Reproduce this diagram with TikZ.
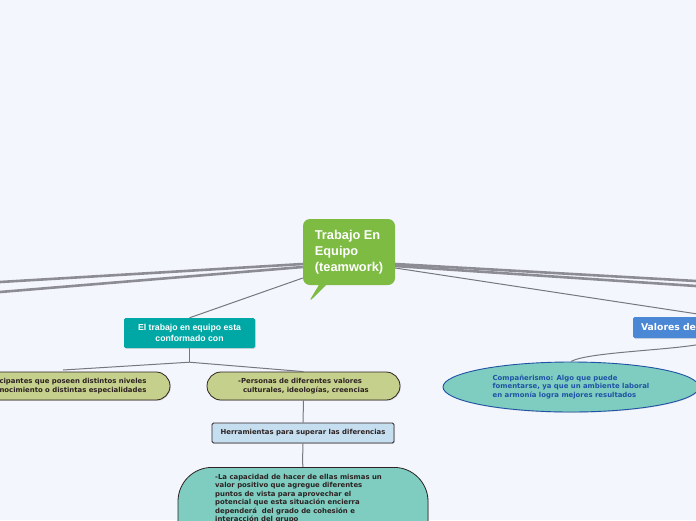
\documentclass[tikz,border=0pt]{standalone}
\usepackage{fontspec}
\setmainfont{DejaVu Sans}
\newfontfamily\headfont{Liberation Sans}
\usepackage{xcolor}
\usetikzlibrary{shapes.geometric, shapes.callouts, positioning, calc, shadows}
\definecolor{pagebg}{RGB}{244, 246, 254}
\definecolor{maingreen}{RGB}{125, 187, 66}
\definecolor{deepteal}{RGB}{0, 168, 165}
\definecolor{olive}{RGB}{197, 208, 140}
\definecolor{paleblue}{RGB}{197, 222, 240}
\definecolor{softteal}{RGB}{126, 205, 192}
\definecolor{valblue}{RGB}{74, 135, 212}
\definecolor{inkblue}{RGB}{31, 82, 165}
\definecolor{darkink}{RGB}{45, 34, 34}
\definecolor{linkgray}{RGB}{140, 140, 148}

\begin{document}
\begin{tikzpicture}[x=1pt, y=-1pt,
    thickbranch/.style={draw=linkgray, line width=2.6pt},
    thinbranch/.style={draw=linkgray!85!black, line width=1pt},
    pill/.style={draw=darkink, line width=0.8pt, fill=olive, rounded corners=14pt,
                 minimum height=28pt, align=left, text=darkink,
                 font=\fontsize{6.9}{8.5}\selectfont\bfseries,
                 drop shadow={shadow xshift=0.8pt, shadow yshift=-0.8pt, opacity=0.25}},
    flatbox/.style={rounded corners=1.5pt, align=center, inner sep=0pt,
                    drop shadow={shadow xshift=0.8pt, shadow yshift=-0.8pt, opacity=0.25}}
]
    \useasboundingbox[fill=pagebg] (0,0) rectangle (696,520);

    % central topic
    \node[rectangle callout, rounded corners=7pt, fill=maingreen, minimum width=92pt,
          minimum height=66pt, callout absolute pointer={(308,303)}, text=white,
          align=left, font=\headfont\fontsize{12.8}{16}\selectfont\bfseries]
          (central) at (349,252) {Trabajo En\\Equipo\\(teamwork)};

    % branches that leave the page
    \coordinate (leftA) at (0,282);
    \coordinate (leftB) at (0,292);
    \coordinate (rightA) at (696,281);
    \coordinate (rightB) at (696,286);
    \draw[thickbranch] ($(central.west)+(0,12)$) -- (leftA);
    \draw[thickbranch] ($(central.west)+(0,15)$) -- (leftB);
    \draw[thickbranch] ($(central.east)+(0,12)$) -- (rightA);
    \draw[thickbranch] ($(central.east)+(0,14)$) -- (rightB);

    % left subtree
    \node[flatbox, fill=deepteal, minimum width=131pt, minimum height=30pt, text=white,
          font=\headfont\fontsize{8.7}{11.5}\selectfont\bfseries]
          (conformado) at (189.5,333) {El trabajo en equipo esta\\conformado con};
    \draw[thinbranch] ($(central.west)+(0,26)$) -- (conformado.north);

    \node[pill, minimum width=194pt] (participantes) at (73,386)
          {cipantes que poseen distintos niveles\\nocimiento o distintas especialidades};
    \node[pill, minimum width=193pt] (personas) at (303.5,386)
          {-Personas de diferentes valores\\\ \ culturales, ideologías, creencias};
    \draw[thinbranch] (conformado.south) -- ++(0,14) coordinate (fork);
    \draw[thinbranch] (fork) -- (63,370);
    \draw[thinbranch] (fork) -- (personas.north);

    \node[flatbox, draw=darkink, line width=0.8pt, fill=paleblue, minimum width=182pt,
          minimum height=20pt, text=darkink, font=\fontsize{6.9}{8.5}\selectfont\bfseries]
          (herramientas) at (303,433) {Herramientas para superar las diferencias};
    \draw[thinbranch] (personas.south) -- (herramientas.north);

    \node[pill, fill=softteal, rounded corners=34pt, minimum width=250pt,
          minimum height=100pt, anchor=north] (capacidad) at (303,467) {};
    \node[anchor=north west, align=left, inner sep=0pt, text=darkink,
          font=\fontsize{6.9}{8.5}\selectfont\bfseries] (capacidadtxt) at (215,474)
          {-La capacidad de hacer de ellas mismas un\\valor positivo que agregue diferentes\\
           puntos de vista para aprovechar el\\potencial que esta situación encierra\\
           dependerá \ del grado de cohesión e\\interacción del grupo};
    \draw[thinbranch] (herramientas.south) .. controls (303,455) and (302,458) .. (capacidad.north);

    % right subtree
    \node[flatbox, fill=valblue, minimum width=166pt, minimum height=21pt, text=white,
          text width=150pt, align=left, font=\fontsize{9.3}{11}\selectfont\bfseries]
          (valores) at (716,327.5) {Valores de};
    \draw[thinbranch] ($(central.east)+(0,16)$) -- (valores.north);

    \node[ellipse, draw=inkblue, line width=0.9pt, fill=softteal, minimum width=256pt,
          minimum height=50pt, inner sep=0pt, align=left, text=inkblue,
          font=\fontsize{6.9}{8.5}\selectfont\bfseries,
          drop shadow={shadow xshift=0.8pt, shadow yshift=-0.8pt, opacity=0.25}]
          (companerismo) at (571,387)
          {Compañerismo: Algo que puede\\fomentarse, ya que un ambiente laboral\\
           en armonía logra mejores resultados};
    \draw[thinbranch] (valores.south) .. controls (712,350) and (590,350) .. (companerismo.north);
\end{tikzpicture}
\end{document}
